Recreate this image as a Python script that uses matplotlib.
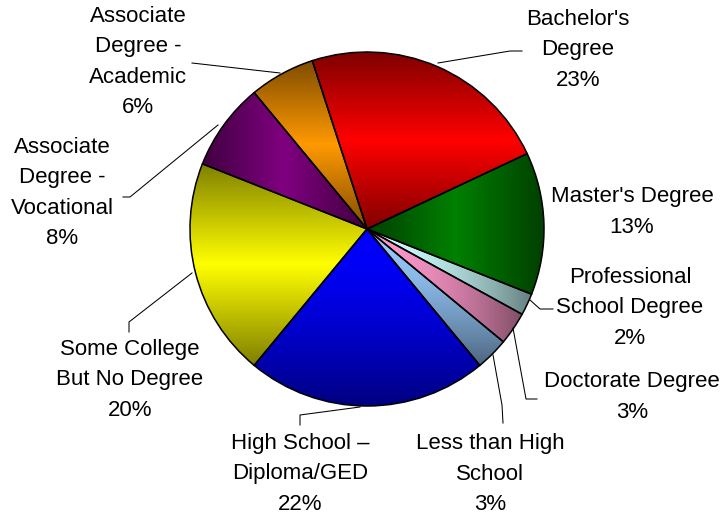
import numpy as np
import matplotlib
matplotlib.use("Agg")
import matplotlib.pyplot as plt

# --- data --------------------------------------------------------------------
labels = ["Bachelor's\nDegree", "Master's Degree", "Professional\nSchool Degree",
          "Doctorate Degree", "Less than High\nSchool", "High School \u2013\nDiploma/GED",
          "Some College\nBut No Degree", "Associate\nDegree -\nVocational",
          "Associate\nDegree -\nAcademic"]
shares = [23, 13, 2, 3, 3, 22, 20, 8, 6]

# --- style -------------------------------------------------------------------
colors = ["#FF0000", "#008000", "#CCFFFF", "#FF99CC", "#99CCFF",
          "#0000FF", "#FFFF00", "#800080", "#FF9900"]
# shading direction of each slice (excel-like gradient fills)
modes = ["v", "h", "right", "right", "down", "down", "v", "h", "v"]

W, H = 722, 516
cx, cy, R = 367, H - 229, 177

# label block centres and leader lines, in pixel coords (y down)
label_pos = [(578, 50), (632, 212), (630, 308), (632, 397), (490, 474),
             (300, 474), (130, 380), (62, 193), (138, 62)]
leaders = [[(438, 63), (510, 51), (522, 51)],
           None,
           [(530, 300), (540, 309), (553, 309)],
           [(513, 328), (526, 399), (537, 399)],
           [(493, 355), (502, 405), (503, 423)],
           [(360, 407), (300, 415), (300, 425)],
           [(192, 273), (129, 322), (129, 332)],
           [(218, 125), (130, 197), (123, 197)],
           [(280, 73), (192, 63)]]


def shade(ax, wedge, base, mode, n=128):
    bb = wedge.get_path().get_extents()
    u = np.linspace(0, 1, n)
    xx, yy = np.meshgrid(u, u)  # yy: 0 at bottom (origin lower)
    if mode == "v":
        t = np.abs(yy - 0.5) * 2
    elif mode == "h":
        t = np.abs(xx - 0.5) * 2
    elif mode == "down":
        t = (1 - yy) ** 1.6
    else:  # right
        t = xx ** 1.8
    f = 1 - 0.5 * t
    rgb = np.array(matplotlib.colors.to_rgb(base))
    img = f[..., None] * rgb[None, None, :]
    im = ax.imshow(img, extent=(bb.x0, bb.x1, bb.y0, bb.y1), origin="lower",
                   interpolation="bilinear", zorder=2)
    im.set_clip_path(wedge)


fig = plt.figure(figsize=(W / 100, H / 100), dpi=100)
ax = fig.add_axes([0, 0, 1, 1])

wedges, _ = ax.pie(shares, colors=colors, startangle=108, counterclock=False,
                   center=(cx, cy), radius=R,
                   wedgeprops=dict(edgecolor="black", linewidth=1.1))
for w, c, m in zip(wedges, colors, modes):
    shade(ax, w, c, m)
    w.set_facecolor("none")
    w.set_zorder(3)

for lab, s, (x, y), ld in zip(labels, shares, label_pos, leaders):
    ax.text(x, H - y, f"{lab}\n{s}%", ha="center", va="center",
            multialignment="center", fontsize=16, family="Liberation Sans",
            linespacing=1.6, zorder=5)
    if ld:
        xs = [p[0] for p in ld]
        ys = [H - p[1] for p in ld]
        ax.plot(xs, ys, color="black", lw=0.75, zorder=4)

ax.set_xlim(0, W)
ax.set_ylim(0, H)
ax.set_aspect("equal")
ax.axis("off")

fig.savefig("out.png", dpi=100, facecolor="white")
